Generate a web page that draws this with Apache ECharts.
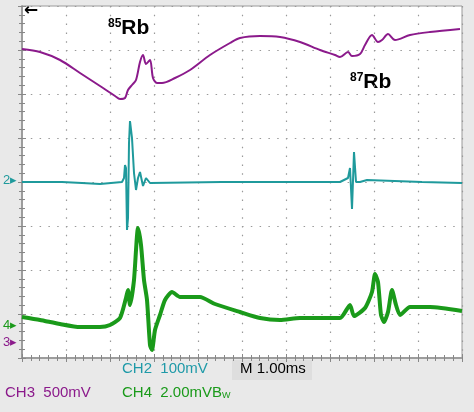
<!DOCTYPE html>
<html>
<head>
<meta charset="utf-8">
<script src="https://cdn.jsdelivr.net/npm/echarts@6/dist/echarts.min.js"></script>
<style>
html, body { margin: 0; padding: 0; background: #e9e9e9; }
#main { width: 474px; height: 412px; }
</style>
</head>
<body>
<div id="main"></div>
<script>
// screen units: 44 per division, 10 x 8 divisions
var divX = [0, 44, 88, 132, 176, 220, 264, 308, 352, 396, 440];

// CH3 - absorption (purple)
var ch3 = [[0,309],[18,306],[38,298],[58,285],[78,272],[93,262],[98,259],[103,260],[106,268],[110,273],[114,278],
    [118,296],[121,303],[124,294],[128,298],[131,280],[135,275],[140,275],[153,280],[168,288],[188,303],[208,315],
    [218,320],[238,322],[258,321],[278,316],[298,308],[313,303],[318,301],[326,306],[330,302],[338,304],[343,313],
    [350,323],[356,316],[360,318],[366,324],[373,318],[388,323],[408,326],[438,329]];

// CH2 - derivative (teal)
var ch2 = [[0,176],[40,176],[60,175],[78,174],[100,176],[102,180],[103,193],[104,190],[105,128],[106,140],[107,215],
    [108,237],[109,237],[110,220],[112,185],[114,168],[116,180],[118,186],[121,172],[124,180],[128,175],[200,176],
    [260,176],[318,176],[326,180],[328,190],[330,149],[332,206],[334,176],[338,176],[345,178],[400,176],[440,175]];

// CH4 - noisy signal (green)
var ch4 = [[0,41],[18,38],[38,34],[58,31],[78,31],[88,33],[98,40],[104,60],[106,68],[108,53],[112,78],[116,130],
    [119,113],[122,78],[125,58],[128,13],[130,8],[133,28],[138,43],[143,58],[150,66],[158,61],[178,61],[193,54],
    [218,46],[238,40],[258,38],[278,40],[318,40],[328,53],[332,42],[343,50],[350,66],[353,84],[356,76],[359,43],
    [362,36],[366,46],[370,68],[374,53],[378,43],[388,51],[408,51],[440,47]];

var chart = echarts.init(document.getElementById('main'));

function ax(pos, max, show) {
    return {
        type: 'value', position: pos, min: 0, max: max, interval: 44,
        axisLabel: { show: false },
        axisLine: { show: true, lineStyle: { color: '#9a9a9a', width: 1.5 } },
        axisTick: { show: true, inside: true, length: 4, lineStyle: { color: '#888' } },
        minorTick: { show: true, splitNumber: 5, length: 3, lineStyle: { color: '#888' } },
        splitLine: { show: show, lineStyle: { color: '#999', type: [1.5, 7.3], width: 1.2 } }
    };
}

var bottomFont = '15px Liberation Sans Narrow, Liberation Sans';
var option = {
    backgroundColor: '#e9e9e9',
    animation: false,
    grid: { left: 22, top: 6, width: 440, height: 352, show: true, backgroundColor: '#fff', borderColor: '#9a9a9a' },
    xAxis: [ax('bottom', 440, true), ax('top', 440, false)],
    yAxis: [ax('left', 352, true), ax('right', 352, false)],
    series: [
        { type: 'line', data: ch3, symbol: 'none', smooth: 0.3, lineStyle: { color: '#8b1a8b', width: 2 } },
        { type: 'line', data: ch2, symbol: 'none', lineStyle: { color: '#1f9a9c', width: 2 } },
        { type: 'line', data: ch4, symbol: 'none', smooth: 0.2, lineStyle: { color: '#1a9a1a', width: 4 } }
    ],
    graphic: [
        { type: 'text', left: 24, top: 2, style: { text: '←', fill: '#000', font: 'bold 17px DejaVu Sans' } },
        { type: 'text', left: 108, top: 18, style: { rich: { s: { font: 'bold 12px Liberation Sans', verticalAlign: 'top' }, b: { font: 'bold 21px Liberation Sans' } }, text: '{s|85}{b|Rb}', fill: '#000' } },
        { type: 'text', left: 350, top: 72, style: { rich: { s: { font: 'bold 12px Liberation Sans', verticalAlign: 'top' }, b: { font: 'bold 21px Liberation Sans' } }, text: '{s|87}{b|Rb}', fill: '#000' } },
        { type: 'text', left: 3, top: 174, style: { text: '2▸', fill: '#1f9a9c', font: '13px Liberation Sans' } },
        { type: 'text', left: 3, top: 319, style: { text: '4▸', fill: '#1a9a1a', font: '13px Liberation Sans' } },
        { type: 'text', left: 3, top: 336, style: { text: '3▸', fill: '#8b1a8b', font: '13px Liberation Sans' } },
        { type: 'rect', shape: { x: 232, y: 360, width: 80, height: 20 }, style: { fill: '#dedede' } },
        { type: 'text', left: 122, top: 361, style: { text: 'CH2  100mV', fill: '#1f9aa8', font: bottomFont } },
        { type: 'text', left: 240, top: 361, style: { text: 'M 1.00ms', fill: '#000', font: bottomFont } },
        { type: 'text', left: 5, top: 385, style: { text: 'CH3  500mV', fill: '#8b1a8b', font: bottomFont } },
        { type: 'text', left: 122, top: 385, style: { rich: { n: { font: bottomFont }, w: { font: '9px Liberation Sans', verticalAlign: 'bottom' } }, text: '{n|CH4  2.00mVB}{w|W}', fill: '#1a9a1a' } }
    ]
};

chart.setOption(option);
window.addEventListener('resize', function () { chart.resize(); });
</script>
</body>
</html>
